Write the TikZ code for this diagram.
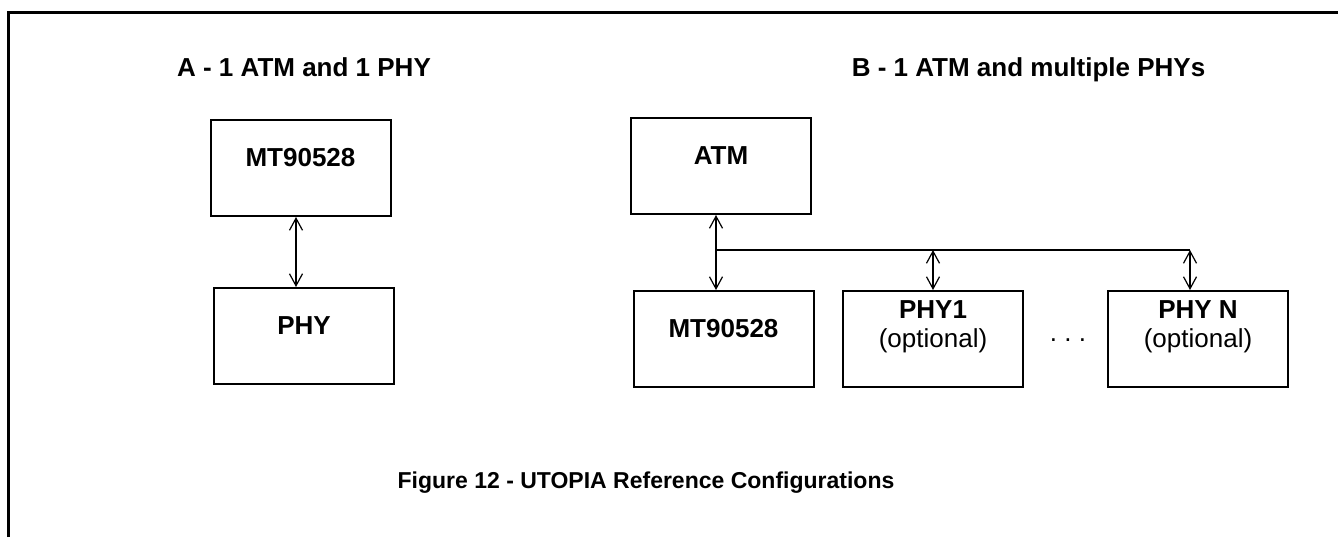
\documentclass[tikz,border=0pt]{standalone}
\usepackage{fontspec}
\setmainfont{Liberation Sans}
\usetikzlibrary{arrows.meta}
\begin{document}
\begin{tikzpicture}[x=0.5pt,y=-0.5pt,
blk/.style={%
draw,
line width=1pt,
minimum width=90pt,
minimum height=48pt,
inner sep=0pt,
font=\fontsize{13}{14.5}\selectfont\bfseries,
text height=23pt,
text depth=25pt
},
blkopt/.style={blk, align=center, text height=28pt, text depth=20pt},
dbl/.style={line width=1pt,
{Straight Barb[length=6pt,width=6.5pt,line width=0.6pt]}-{Straight Barb[length=6pt,width=6.5pt,line width=0.6pt]}},
ttl/.style={anchor=base, font=\fontsize{13}{15}\selectfont\bfseries}
]
\useasboundingbox (0,0) rectangle (1338,537);
%% frame
\draw[line width=1.5pt](8,537)--(8,12)--(1338,12);
%% A - one ATM, one PHY
\node[ttl]at(304,76)(ta){A - 1 ATM and 1 PHY};
\node[blk]at(300.5,168)(a1){MT90528};
\node[blk]at(304,336)(a2){PHY};
\draw[dbl]([xshift=-2.25pt]a1.south)--([xshift=-4pt]a2.north);
%% B - one ATM, several PHYs
\node[ttl]at(1028.5,76)(tb){B - 1 ATM and multiple PHYs};
\node[blk]at(721,166)(atm){ATM};
\node[blk]at(723.5,339)(bmt){MT90528};
\node[blkopt]at(933,339)(p1){PHY1\\\mdseries(optional)};
\node[blkopt]at(1198,339)(pn){PHY N\\\mdseries(optional)};
\node[anchor=base,font=\fontsize{13}{15}\selectfont]at(1068,341)(dots){.\ .\ .};
\coordinate(busL)at(716,250);
\coordinate(busR)at(1190,250);
\draw[dbl](atm.south -| busL)--(bmt.north -| busL);
\draw[line width=1pt](busL)--(busR);
\draw[dbl](busL -| p1.north)--(p1.north);
\draw[dbl](busR)--(pn.north -| busR);
%% caption
\node[anchor=base,font=\fontsize{11.5}{14}\selectfont\bfseries]at(646,488)(cap){Figure 12 - UTOPIA Reference Configurations};
\end{tikzpicture}
\end{document}
